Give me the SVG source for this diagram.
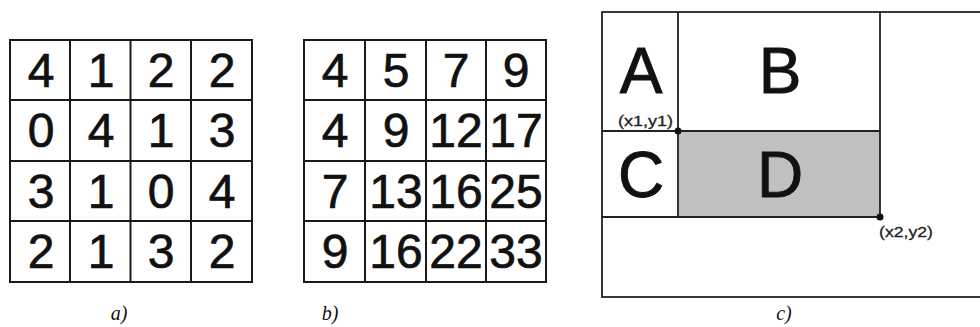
<svg xmlns="http://www.w3.org/2000/svg" width="980" height="327" viewBox="0 0 980 327">
<style>
.g{fill:none;stroke:#1a1a1a;stroke-width:2}
.n{font-family:"Liberation Sans",Arial,sans-serif;font-size:48px;fill:#111;stroke:#111;stroke-width:0.7;text-anchor:middle}
.L{font-family:"Liberation Sans",Arial,sans-serif;font-size:64px;fill:#111;stroke:#111;stroke-width:0.9;text-anchor:middle}
.s{font-family:"Liberation Sans",Arial,sans-serif;font-size:15px;fill:#222;stroke:#222;stroke-width:0.3}
.c{font-family:"Liberation Serif","Times New Roman",serif;font-size:20px;font-style:italic;fill:#111;text-anchor:middle}
.p{fill:none;stroke:#222;stroke-width:1.8}
</style>
<rect width="980" height="327" fill="#fff"/>
<g id="gridA">
<rect class="g" x="10" y="40" width="242" height="242"/>
<path class="g" d="M70,40V282M130.5,40V282M191,40V282M10,100H252M10,161H252M10,221H252"/>
<text class="n" x="41" y="87">4</text><text class="n" x="101" y="87">1</text><text class="n" x="161" y="87">2</text><text class="n" x="222" y="87">2</text>
<text class="n" x="41" y="147">0</text><text class="n" x="101" y="147">4</text><text class="n" x="161" y="147">1</text><text class="n" x="222" y="147">3</text>
<text class="n" x="41" y="208">3</text><text class="n" x="101" y="208">1</text><text class="n" x="161" y="208">0</text><text class="n" x="222" y="208">4</text>
<text class="n" x="41" y="268">2</text><text class="n" x="101" y="268">1</text><text class="n" x="161" y="268">3</text><text class="n" x="222" y="268">2</text>
</g>
<g id="gridB">
<rect class="g" x="304" y="40" width="242" height="242"/>
<path class="g" d="M365,40V282M426,40V282M486,40V282M304,100H546M304,161H546M304,221H546"/>
<text class="n" x="335" y="87">4</text><text class="n" x="396" y="87">5</text><text class="n" x="456" y="87">7</text><text class="n" x="516" y="87">9</text>
<text class="n" x="335" y="147">4</text><text class="n" x="396" y="147">9</text><text class="n" x="456" y="147">12</text><text class="n" x="516" y="147">17</text>
<text class="n" x="335" y="208">7</text><text class="n" x="396" y="208">13</text><text class="n" x="456" y="208">16</text><text class="n" x="516" y="208">25</text>
<text class="n" x="335" y="268">9</text><text class="n" x="396" y="268">16</text><text class="n" x="456" y="268">22</text><text class="n" x="516" y="268">33</text>
</g>
<g id="panelC">
<rect x="678" y="131" width="202" height="86" fill="#c0c0c0"/>
<rect class="p" x="602" y="12" width="380" height="285"/>
<path class="p" d="M678,12V217M880,12V217M602,131H880M602,217H880"/>
<circle cx="678" cy="131" r="3.5" fill="#111"/>
<circle cx="880" cy="217" r="3.5" fill="#111"/>
<text class="L" x="641" y="93">A</text>
<text class="L" x="780" y="93">B</text>
<text class="L" x="641" y="197">C</text>
<text class="L" x="780" y="197">D</text>
<text class="s" x="618" y="126" textLength="55" lengthAdjust="spacingAndGlyphs">(x1,y1)</text>
<text class="s" x="879" y="237" textLength="54" lengthAdjust="spacingAndGlyphs">(x2,y2)</text>
</g>
<g id="captions">
<text class="c" x="119" y="320">a)</text>
<text class="c" x="330" y="320">b)</text>
<text class="c" x="784" y="320">c)</text>
</g>
</svg>
